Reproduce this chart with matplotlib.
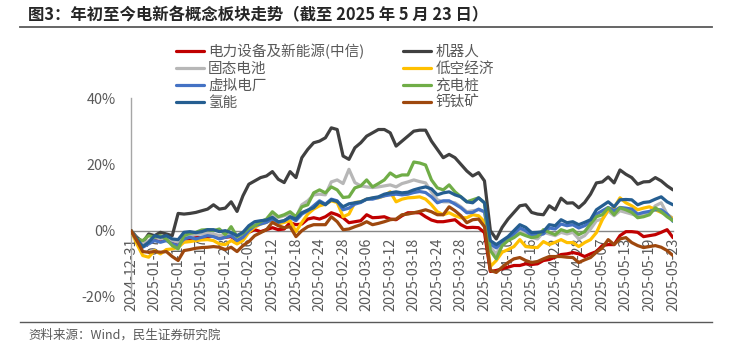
import numpy as np
import matplotlib
matplotlib.use("Agg")
import matplotlib.pyplot as plt
from matplotlib.lines import Line2D

plt.rcParams['font.family'] = ['Noto Sans CJK SC', 'DejaVu Sans']

tick_labels = ['2024-12-31', '2025-01-07', '2025-01-13', '2025-01-17', '2025-01-23',
               '2025-02-06', '2025-02-12', '2025-02-18', '2025-02-24', '2025-02-28',
               '2025-03-06', '2025-03-12', '2025-03-18', '2025-03-24', '2025-03-28',
               '2025-04-03', '2025-04-10', '2025-04-16', '2025-04-22', '2025-04-28',
               '2025-05-07', '2025-05-13', '2025-05-19', '2025-05-23']

names = ['电力设备及新能源(中信)', '机器人', '固态电池', '低空经济', '虚拟电厂', '充电桩', '氢能', '钙钛矿']
colors = ['#C00000', '#404040', '#B7B7B7', '#FFC000', '#4472C4', '#70AD47', '#255E91', '#9E480E']

# cumulative return since 2024-12-31, in %
power_equipment = [0, -2.5, -4, -3.5, -2.5, -3, -2.5, -3, -4, -2.5, -2.5, -2, -2.2, -2, -1.5, -2.3, -2, -1.8, -3, -2,
                   -0.5, 0.3, -0.3, 0.3, 0.9, 0.3, 0.5, 2.4, 1.8, 2, 3.5, 3.9, 3.5, 4.2, 5.4, 4.8, 3.9, 2.4, 2.7, 3,
                   4.8, 3.9, 4, 4.2, 3.5, 3.3, 4.5, 5.4, 5.4, 5.4, 4.2, 3.2, 2.7, 2.7, 3, 3.3, 1.8, 0.9, 1, 0.9,
                   -0.6, -12.3, -12, -11.5, -11, -10.5, -10.5, -10, -10.2, -10, -9, -8.7, -8, -7.2, -7, -6.6, -7, -7.8, -7, -6.3,
                   -4.5, -4.2, -4.2, -1.5, -0.3, -0.3, -0.5, -1.8, -1.5, -1.2, -0.5, 0.3, -2.1]
robot = [0, -2, -3.5, -1, -1.5, -0.5, -1, -1.5, 5.2, 5, 5.2, 5.5, 6, 6.5, 7.8, 6.5, 6.8, 8.7, 5.8, 10.5,
         14, 15, 16, 16.5, 17.8, 15.5, 14.5, 17.8, 16, 22, 24.5, 26.5, 27, 28, 31, 30.5, 22.5, 21.5, 25, 26.5,
         28.5, 29.5, 30.5, 30.5, 29.5, 25.5, 27, 28.5, 30, 30.3, 30.3, 27, 24.5, 22, 23, 22, 20, 18, 16.5, 17.5,
         15, 0, -2.5, 1, 3.5, 5.5, 7.5, 7.8, 5.5, 5, 4.8, 7.5, 6.3, 9.8, 8.3, 8.4, 6.9, 8.5, 11, 14.4,
         14.7, 16.2, 14.4, 18.3, 17, 16, 14, 14.7, 14.8, 16, 15, 13.5, 12.3]
solid_battery = [0, -2.5, -4, -3, -2, -2.5, -2, -3, -3.5, -1.5, -1.5, -1.2, -1, -0.8, -1, -1.5, -1.2, -0.5, -2, -1,
                 0.8, 1.5, 2.5, 3, 4.8, 4, 4.5, 5, 4, 7.8, 9, 10.8, 11, 10.8, 14.7, 15.3, 14.2, 18.5, 14.5, 13.5,
                 13.2, 13, 13.2, 13.5, 13.8, 13.2, 14.2, 14.7, 15.3, 14.8, 14.4, 11.7, 9.3, 8.7, 8.7, 8.4, 7.2, 5.7, 6, 6.3,
                 5.7, -5, -7, -4, -2, -1, 0, -1, -2, -2.5, -0.5, -1, -1.5, -0.5, -1, -0.5, -2.5, -1.5, 0.5, 3,
                 3.5, 6, 4.5, 6, 5.5, 5, 4.5, 5, 5.5, 7.5, 8.4, 5, 3.7]
low_altitude = [0, -4, -7.5, -8, -6, -7, -5.7, -5.5, -5, -3.5, -3.3, -3, -2.8, -2.7, -3, -4, -4.2, -3, -4, -3,
                -0.5, 1, 2, 2.5, 3.5, 2, 2.5, 3, -0.3, 2.5, 5, 6.5, 7.5, 8, 9, 8.5, 4.2, 5, 8.5, 8.7,
                9.5, 9.8, 9.9, 10.5, 11.7, 8.7, 9.5, 9.9, 10, 10.2, 9.5, 7.8, 5.7, 4.8, 5.4, 4.5, 3.9, 3.9, 4.8, 4.5,
                2.7, -10.8, -9, -6.5, -5.7, -4.8, -2.7, -4.8, -5, -5.1, -3.3, -4.2, -3.5, -2.7, -3.6, -3.6, -4.8, -3.6, -2.7, -0.6,
                3.3, 6.3, 6.9, 9.9, 8.4, 7.5, 6.3, 6.8, 7.2, 6.3, 5.5, 4.8, 3.5]
virtual_plant = [0, -3, -5, -4, -3, -3.5, -3, -4, -4.5, -2.5, -2, -2.5, -2, -1.5, -1.8, -2.5, -2, -1.5, -3, -2,
                 0, 1.5, 2, 2.5, 3.5, 2.5, 3, 4, 3, 5, 6, 7.5, 9, 8, 9.5, 9, 6.3, 6.8, 8, 8.5,
                 9.5, 9.5, 10, 10.5, 10.8, 11, 10.8, 11, 11.5, 11.8, 11.5, 10.2, 8.4, 9, 9, 8, 6.9, 5.4, 5.5, 6.5,
                 5.7, -4, -5.2, -3.5, -2.5, -1, 0.8, 0, -1.5, -1.2, -1, 0.8, 0.5, 2, 1.5, 1.8, 0.8, 1.5, 2.5, 5,
                 6, 7, 6, 7, 6.8, 6.5, 5, 5.5, 5.8, 6.3, 6.3, 5, 2.8]
charging_pile = [0, -2.5, -3, -1.5, -2, -1.5, -2.5, -4.5, -5.5, -1.5, -0.8, -0.5, 0.2, 0.3, 0, 0.5, -1.2, 1.2, -1.8, -0.8,
                 0.8, 1.5, 2.7, 3.5, 5.7, 4.2, 4.8, 5.7, 4.2, 7.2, 7.8, 11.4, 12.3, 11.4, 13.2, 12.3, 10, 10.2, 12.9, 13.5,
                 15.3, 13.2, 14.2, 15.3, 17.4, 16.2, 16.8, 16.8, 20.7, 20.4, 19.8, 15.3, 12.9, 12.3, 13.8, 11.7, 10.2, 8.7, 9.3, 9.9,
                 8.4, -6, -8.5, -4.5, -3, -2.1, -0.8, -1.5, -2.1, -1.8, 0.3, -0.5, -1.2, 0.3, -0.3, 0.3, -1.2, -0.3, 2, 4.2,
                 4.8, 6.9, 4.8, 6.9, 6.3, 5.5, 3.9, 4.2, 4.8, 6.9, 5.7, 4.2, 3]
hydrogen = [0, -2.5, -4.8, -3.5, -1.5, -2, -1.5, -2.5, -2.7, -0.5, -0.3, -0.6, -0.3, 0.3, 0.3, -0.3, 0, -0.6, -1.5, -0.5,
            1.5, 2.7, 3, 3.2, 4, 2.7, 3, 4.2, 3.5, 5.4, 6.2, 6.9, 8.7, 7.8, 9.3, 8.8, 7.2, 8.1, 8.4, 8.7,
            9.5, 9.9, 10.2, 11, 11.4, 11.7, 11.4, 11.6, 12.3, 12.8, 13.2, 12.6, 10.8, 11.4, 11.7, 10.8, 10.2, 8.7, 8.4, 9.9,
            8.4, -3, -4.2, -3, -1.8, 0, 1.8, 1, -0.6, -0.5, -0.3, 1.8, 1.5, 3.3, 2.4, 2.7, 1.8, 2.5, 3.3, 6.3,
            7.5, 8.7, 7.2, 9.3, 9.4, 9.3, 7.8, 8.5, 8.7, 9.5, 10.2, 8.7, 7.8]
perovskite = [0, -3, -6.3, -6.5, -6.3, -6.5, -6.3, -7.8, -9, -6, -5.7, -5.3, -5.1, -5, -4.8, -5, -5.7, -5, -6.3, -4.5,
              -3.3, -1.5, -0.6, 0.3, 2.5, 1.5, 0.9, 1.2, -1.8, 0, 1.2, 1.8, 1.8, 1.8, 4.2, 2.7, 0.3, 0.5, 1.2, 1.8,
              2.7, 1.8, 2.2, 2.7, 3.3, 3.5, 4.8, 5, 5.4, 5.8, 6.3, 5.7, 4.8, 4.8, 7.2, 6, 4.5, 2.4, 3.3, 3.5,
              1.2, -12, -12.6, -11, -9.6, -8.5, -8.1, -9, -9.6, -9.3, -8.5, -7.8, -7.8, -7.8, -8, -8.1, -9.6, -8.8, -8.1, -6.5,
              -5.2, -2.7, -4.2, -2.5, -2.1, -3.6, -4.5, -5.1, -4.8, -4.5, -5, -6, -7.5]

series = [power_equipment, robot, solid_battery, low_altitude, virtual_plant, charging_pile, hydrogen, perovskite]

fig = plt.figure(figsize=(7.29, 3.47), dpi=100)
ax = fig.add_axes([131 / 729, 1 - 297 / 347, (673 - 131) / 729, (297 - 98) / 347])

x = np.arange(len(robot))
handles = []
for vals, name, c in zip(series, names, colors):
    h, = ax.plot(x, vals, color=c, lw=2.3, solid_joinstyle='round', solid_capstyle='round', zorder=3, label=name)
    handles.append(h)

for s in ['top', 'right']:
    ax.spines[s].set_visible(False)
ax.spines['bottom'].set_position(('data', 0))
ax.spines['bottom'].set_color('#868686')
ax.spines['bottom'].set_linewidth(1.0)
ax.spines['bottom'].set_zorder(2)
ax.spines['left'].set_color('#A6A6A6')
ax.spines['left'].set_linewidth(1.0)

ax.set_xlim(0, len(robot) - 1)
ax.set_ylim(-20, 40)
ax.set_yticks([-20, 0, 20, 40])
ax.set_yticklabels([f'{v}%' for v in [-20, 0, 20, 40]])
ax.set_xticks(np.arange(0, len(robot), 4))
ax.set_xticklabels(tick_labels)
ax.tick_params(axis='x', length=0, pad=5, labelsize=10.3, labelcolor='#595959', labelrotation=90)
ax.tick_params(axis='y', length=0, pad=11, labelsize=10.3, labelcolor='#595959')
for t in ax.get_xticklabels():
    t.set_va('top')
    t.set_ha('center')
ax.patch.set_visible(False)

order = [0, 2, 4, 6, 1, 3, 5, 7]
fig.legend([handles[i] for i in order], [names[i] for i in order], ncol=2,
           loc='upper left', bbox_to_anchor=(176 / 729, 1 - 43.5 / 347), frameon=False,
           fontsize=10.5, labelcolor='#595959', handlelength=1.93, handletextpad=0.27,
           columnspacing=2.67, labelspacing=0.2, borderpad=0, borderaxespad=0)

fig.text(28 / 729, 1 - 15 / 347, '图3：年初至今电新各概念板块走势（截至 2025 年 5 月 23 日）',
         fontsize=11.8, fontweight='bold', color='#262626', va='center', ha='left')
fig.add_artist(Line2D([20 / 729, 712 / 729], [1 - 27 / 347, 1 - 27 / 347], color='#595959', lw=1.3))
fig.add_artist(Line2D([20 / 729, 712 / 729], [1 - 322 / 347, 1 - 322 / 347], color='#595959', lw=1.0))
fig.text(28 / 729, 1 - 335 / 347, '资料来源：Wind，民生证券研究院', fontsize=9, color='#595959',
         va='center', ha='left')

fig.savefig('out.png', dpi=100)
